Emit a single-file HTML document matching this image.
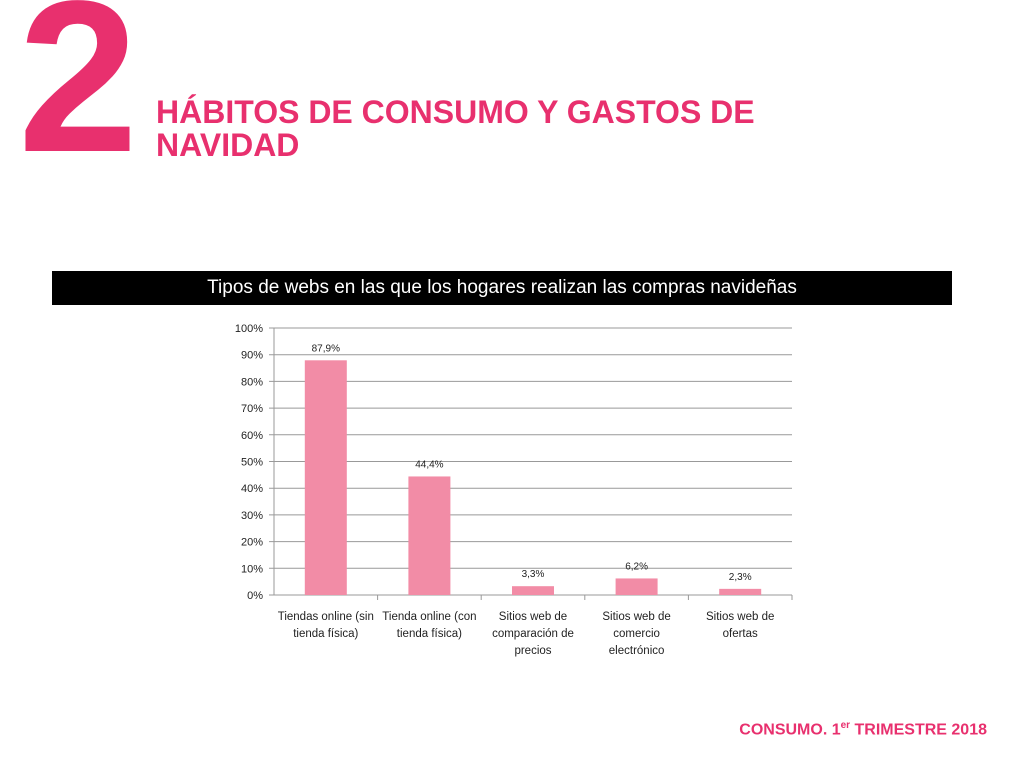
<!DOCTYPE html>
<html><head><meta charset="utf-8"><style>
body{margin:0;width:1024px;height:768px;background:#fff;position:relative;overflow:hidden;font-family:"Liberation Sans",sans-serif}
.big{position:absolute;left:18px;top:-32px;font-size:216px;font-weight:bold;color:#e8306e;line-height:1}
.title{position:absolute;left:156px;top:96px;font-size:32px;font-weight:bold;color:#e8306e;line-height:33px}
.band{position:absolute;left:52px;top:271px;width:900px;height:34px;background:#000;color:#fff;font-size:19px;text-align:center;line-height:34px}
.foot{position:absolute;right:37px;top:720px;font-size:16px;font-weight:bold;color:#e8306e}
svg{position:absolute;left:0;top:0}
</style></head><body>
<div class="big">2</div>
<div class="title">HÁBITOS DE CONSUMO Y GASTOS DE<br>NAVIDAD</div>
<div class="band">Tipos de webs en las que los hogares realizan las compras navideñas</div>
<svg id="chart" width="1024" height="768"></svg>
<div class="foot">CONSUMO. 1<sup style="font-size:10px">er</sup> TRIMESTRE 2018</div>
<script>
const categories=[["Tiendas online (sin","tienda física)"],["Tienda online (con","tienda física)"],["Sitios web de","comparación de","precios"],["Sitios web de","comercio","electrónico"],["Sitios web de","ofertas"]];
const values=[87.9,44.4,3.3,6.2,2.3];
const valueLabels=["87,9%","44,4%","3,3%","6,2%","2,3%"];
const ticks=[0,10,20,30,40,50,60,70,80,90,100];
const svg=document.getElementById('chart');const NS='http://www.w3.org/2000/svg';
const x0=274,x1=792,yTop=328,yBot=595;
const y=v=>yBot-(v/100)*(yBot-yTop);
const cw=(x1-x0)/categories.length;
function mk(t,a){const e=document.createElementNS(NS,t);for(const k in a)e.setAttribute(k,a[k]);svg.appendChild(e);return e;}
ticks.forEach(t=>{
const l=mk('line',{x1:x0-5,x2:x1,y1:y(t),y2:y(t),stroke:'#999','stroke-width':1});


const tx=mk('text',{x:x0-11,y:y(t)+4,'text-anchor':'end','font-size':11,fill:'#222'});tx.textContent=t+'%';


});
mk('line',{x1:x0,x2:x0,y1:yTop,y2:yBot,stroke:'#999'});
values.forEach((v,i)=>{
const cx=x0+cw*(i+0.5);
const b=mk('rect',{x:cx-21,y:y(v),width:42,height:yBot-y(v),fill:'#f28ca6'});


const t=mk('text',{x:cx,y:y(v)-9,'text-anchor':'middle','font-size':10,fill:'#222'});t.textContent=valueLabels[i];


mk('line',{x1:x0+cw*(i+1),x2:x0+cw*(i+1),y1:yBot,y2:yBot+5,stroke:'#999'});
categories[i].forEach((s,j)=>{const c=mk('text',{x:cx,y:620+j*17,'text-anchor':'middle','font-size':11.5,fill:'#222'});c.textContent=s;

});
});
</script>
</body></html>
